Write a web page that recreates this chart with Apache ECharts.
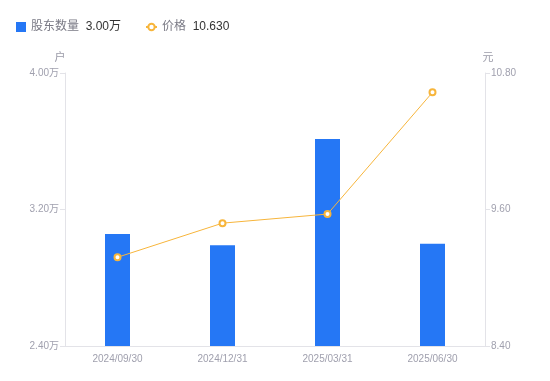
<!DOCTYPE html>
<html><head><meta charset="utf-8">
<script src="https://cdn.jsdelivr.net/npm/echarts@6/dist/echarts.min.js"></script>
<style>html,body{margin:0;padding:0;background:#fff}#c{width:550px;height:381px}</style>
</head><body><div id="c"></div>
<script>
const categories = ['2024/09/30','2024/12/31','2025/03/31','2025/06/30'];
const holders = [30560, 29900, 36130, 30000];
const prices = [9.18, 9.48, 9.56, 10.63];
const leftTicks = {min: 24000, max: 40000, interval: 8000};
const rightTicks = {min: 8.4, max: 10.8, interval: 1.2};

const chart = echarts.init(document.getElementById('c'));
const latest = {
  '股东数量': (holders[holders.length-1]/10000).toFixed(2) + '万',
  '价格': prices[prices.length-1].toFixed(3)
};
const legendText = {
  formatter: n => '{a|' + n + '}  {b|' + latest[n] + '}',
  textStyle: {rich: {a: {color: '#7a7a85', fontSize: 12}, b: {color: '#333', fontSize: 12}}}
};
chart.setOption({
  animation: false,
  textStyle: {fontFamily: '"Liberation Sans", "Noto Sans CJK SC", sans-serif'},
  legend: [Object.assign({
    left: 11, top: 16, itemWidth: 10, itemHeight: 10,
    data: [{name: '股东数量', icon: 'rect'}]
  }, legendText), Object.assign({
    left: 140, top: 16, itemWidth: 11, itemHeight: 8,
    data: [{name: '价格'}]
  }, legendText)],
  grid: {left: 65, right: 65, top: 73, bottom: 35},
  xAxis: {
    type: 'category', data: categories,
    axisLine: {lineStyle: {color: '#e3e3e8'}},
    axisTick: {show: false},
    axisLabel: {color: '#a0a0ae', fontSize: 10, margin: 8}
  },
  yAxis: [{
    type: 'value', name: '户', min: leftTicks.min, max: leftTicks.max, interval: leftTicks.interval,
    nameTextStyle: {color: '#9a9aa8', fontSize: 11, padding: [0, 10, 0, 0]},
    nameGap: 10,
    axisLine: {show: true, lineStyle: {color: '#e3e3e8'}},
    axisTick: {show: true, lineStyle: {color: '#e3e3e8'}},
    splitLine: {show: false},
    axisLabel: {color: '#a0a0ae', fontSize: 10, margin: 6, formatter: v => (v/10000).toFixed(2) + '万'}
  }, {
    type: 'value', name: '元', min: rightTicks.min, max: rightTicks.max, interval: rightTicks.interval,
    nameTextStyle: {color: '#9a9aa8', fontSize: 11, padding: [0, 0, 0, 6]},
    nameGap: 10,
    axisLine: {show: true, lineStyle: {color: '#e3e3e8'}},
    axisTick: {show: true, lineStyle: {color: '#e3e3e8'}},
    splitLine: {show: false},
    axisLabel: {color: '#a0a0ae', fontSize: 10, margin: 6, formatter: v => v.toFixed(2)}
  }],
  series: [{
    name: '股东数量', type: 'bar', data: holders, barWidth: 25,
    itemStyle: {color: '#2577f5'}
  }, {
    name: '价格', type: 'line', yAxisIndex: 1, data: prices,
    symbol: 'emptyCircle', symbolSize: 6,
    lineStyle: {color: '#f7b53b', width: 1},
    itemStyle: {color: '#f7b53b', borderWidth: 2}
  }]
});
</script></body></html>
